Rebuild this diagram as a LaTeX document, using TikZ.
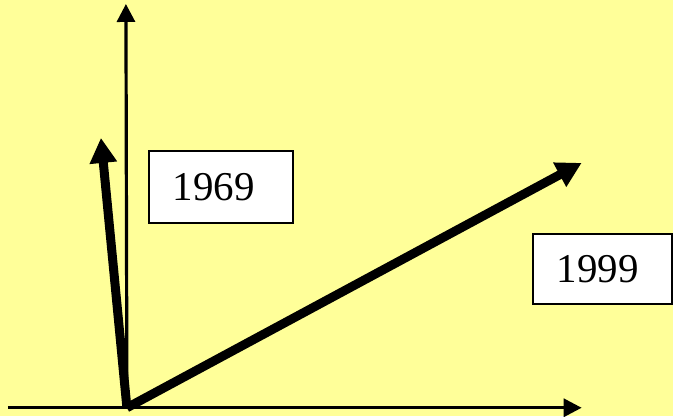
\documentclass[tikz,border=0pt]{standalone}
\usepackage{fontspec}
\setmainfont{Liberation Serif}
\usetikzlibrary{positioning,arrows.meta,calc}
\definecolor{bgyellow}{RGB}{255,255,153}

\begin{document}
\begin{tikzpicture}[x=1pt, y=-1pt, >=Triangle]
  \tikzset{
    axis/.style={line width=3.2pt, -{Triangle[length=18pt,width=18pt]}},
    vec/.style={line width=9pt, -{Triangle[length=25pt,width=26pt]}},
    yearbox/.style={draw, line width=1.8pt, fill=white, inner sep=0pt,
      font=\fontsize{41}{41}\selectfont}
  }
  \fill[bgyellow] (0,0) rectangle (673,416);
  % axes
  \coordinate (O) at (127,408);
  \coordinate (xstart) at (8,408);
  \coordinate (xend) at (582,408);
  \coordinate (yend) at (126,4);
  \draw[axis] (xstart) -- (xend);
  \draw[axis] (O) -- (yend);
  % the two vectors
  \coordinate (v69) at (101,138);
  \coordinate (v99) at (582,163);
  \draw[vec] (O) -- (v69);
  \draw[vec] (O) -- (v99);
  % labels
  \node[yearbox, minimum width=144pt, minimum height=72pt] (l69) at (221,187) {\makebox[96pt][l]{1969}};
  \node[yearbox, minimum width=139pt, minimum height=70pt] (l99) at (603,269) {\makebox[92pt][l]{1999}};
\end{tikzpicture}
\end{document}
